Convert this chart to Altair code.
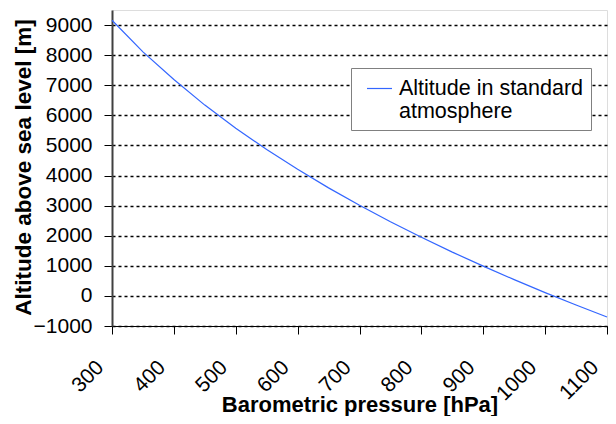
import altair as alt
import pandas as pd

pressure = [300, 350, 400, 450, 500, 550, 600, 650, 700, 750, 800, 850, 900, 950, 1000, 1050, 1100]
altitude = [9160, 8110, 7190, 6340, 5570, 4865, 4205, 3590, 3010, 2465, 1950, 1455, 990, 540, 110, -300, -700]
series = ["Altitude in standard atmosphere"] * len(pressure)

x_ticks = [300, 400, 500, 600, 700, 800, 900, 1000, 1100]
y_ticks = [-1000, 0, 1000, 2000, 3000, 4000, 5000, 6000, 7000, 8000, 9000]

df = pd.DataFrame({"p": pressure, "h": altitude, "s": series})

FONT = "Liberation Sans"

chart = alt.Chart(df).mark_line(strokeWidth=1.2).encode(
    x=alt.X("p:Q",
            scale=alt.Scale(domain=[300, 1100], nice=False, zero=False),
            axis=alt.Axis(values=x_ticks, format="d", title="Barometric pressure [hPa]",
                          grid=False, labelAngle=-45, labelAlign="right",
                          labelBaseline="middle", labelPadding=30, labelOffset=-12,
                          labelFontSize=21, labelFont=FONT, labelColor="black",
                          tickSize=8, tickColor="black", domainColor="black",
                          titleFont=FONT, titleFontSize=22, titleFontWeight="bold",
                          titleColor="black", titleY=85, titleBaseline="alphabetic",
                          labelOverlap=False, labelFlush=False)),
    y=alt.Y("h:Q",
            scale=alt.Scale(domain=[-1000, 9500], nice=False, zero=False),
            axis=alt.Axis(values=y_ticks, format="d", title="Altitude above sea level [m]",
                          grid=True, gridColor="black", gridDash=[3, 3], gridWidth=1.6,
                          labelPadding=12, labelFontSize=21, labelFont=FONT,
                          labelColor="black", tickSize=8, tickColor="black",
                          domainColor="#404040", domainWidth=2,
                          titleFont=FONT, titleFontSize=22.5, titleFontWeight="bold",
                          titleColor="black", titleX=-82, titleY=157,
                          titleBaseline="alphabetic", titleAngle=-90,
                          labelOverlap=False, labelFlush=False)),
    color=alt.Color("s:N",
                    scale=alt.Scale(range=["#3366ff"]),
                    legend=alt.Legend(title=None, orient="none", legendX=239, legendY=58,
                                      labelExpr="['Altitude in standard ', 'atmosphere']",
                                      labelFont=FONT, labelFontSize=21.5, labelColor="black",
                                      labelLimit=400, symbolType="stroke", symbolSize=625,
                                      symbolStrokeWidth=1.2, padding=7, symbolOffset=8,
                                      labelOffset=6, strokeColor="#808080", fillColor="white",
                                      labelBaseline="middle")),
).properties(
    width=495,
    height=316,
    autosize=alt.AutoSizeParams(type="none"),
    padding={"left": 104, "top": 2, "right": 1, "bottom": 90},
).configure_view(
    stroke="#808080", strokeWidth=1
).configure(background="white")

chart.save("out.html", embed_options={"renderer": "svg", "actions": False})
